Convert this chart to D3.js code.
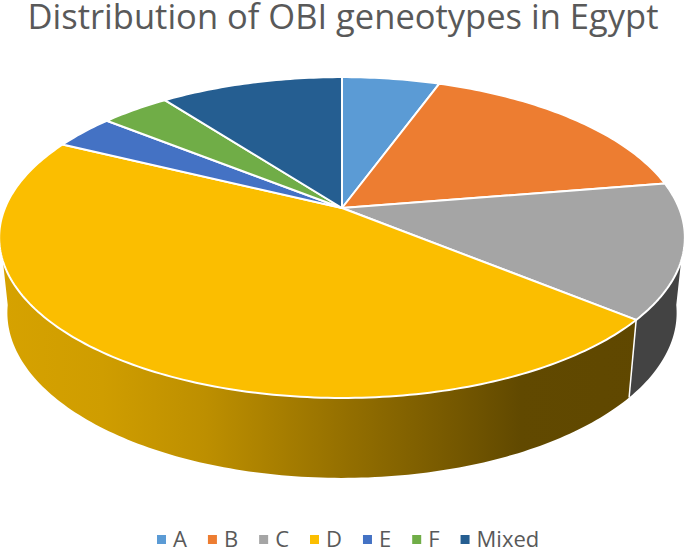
<!DOCTYPE html>
<html>
<head>
<meta charset="utf-8">
<script src="https://cdn.jsdelivr.net/npm/d3@7"></script>
<style>
  html, body { margin: 0; padding: 0; background: #fff; }
  text { font-family: "Open Sans", sans-serif; fill: #595959; }
</style>
</head>
<body>
<div id="chart"></div>
<script>
"use-strict";

const categories = ["A", "B", "C", "D", "E", "F", "Mixed"];
const shares = [5.5, 16.9, 13.6, 46.3, 3.5, 3.9, 10.3];
const colors = ["#5b9bd5", "#ed7d31", "#a5a5a5", "#fbbe00", "#4472c4", "#70ad47", "#255e91"];
const chartTitle = "Distribution of OBI geneotypes in Egypt";

const msm = {
    width: 685,
    height: 550,
    centerX: 342,
    centerY: 208,  // apex of the pie, it sits above the ellipse middle because of perspective
    scaleX: 337,
    scaleY: 155,
    tilt: 0.184
};

// where the side wall turns away from the viewer
const wallRight = 98 * Math.PI / 180;
const wallLeft = 262 * Math.PI / 180;

let svgContainer = d3.select("#chart")
    .append("svg")
    .attr("width", msm.width)
    .attr("height", msm.height)
    .style("display", "block");

// project an angle on the pie disc to the screen
function topPoint(angle, radius = 1) {
    let px = radius * Math.sin(angle);
    let py = -radius * Math.cos(angle);
    let w = 1 - msm.tilt * py;
    return [msm.centerX + msm.scaleX * px / w, msm.centerY + msm.scaleY * py / w];
}

// same point on the lower rim of the disc
function bottomPoint(angle) {
    let p = topPoint(angle);
    return [msm.centerX + 0.976 * (p[0] - msm.centerX), p[1] * 1.03 + 68];
}

let arcs = d3.pie().sort(null).value((d) => d)(shares);
let line = d3.line();

function sweep(start, end, fn) {
    let steps = Math.max(2, Math.ceil(Math.abs(end - start) * 60));
    return d3.range(steps + 1).map((i) => fn(start + (end - start) * i / steps));
}

// horizontal shading on the big wall
let defs = svgContainer.append("defs");
let wallGradient = defs.append("linearGradient")
    .attr("id", "wallD")
    .attr("gradientUnits", "userSpaceOnUse")
    .attr("x1", 0).attr("x2", msm.width)
    .attr("y1", 0).attr("y2", 0);
[[0, "#d6a200"], [0.15, "#cf9d00"], [0.3, "#bd8f00"], [0.5, "#957000"], [0.65, "#785a00"], [0.76, "#614900"], [1, "#5f4700"]]
    .forEach((s) => wallGradient.append("stop").attr("offset", s[0]).attr("stop-color", s[1]));

// walls first, the top faces cover whatever is behind
let arcC = arcs[2];
let arcD = arcs[3];

function wallPath(start, end) {
    return line(sweep(start, end, topPoint).concat(sweep(end, start, bottomPoint))) + "Z";
}

svgContainer.append("path")
    .attr("d", wallPath(Math.max(arcC.startAngle, wallRight), arcC.endAngle))
    .attr("fill", "#434343");

svgContainer.append("path")
    .attr("d", wallPath(arcD.startAngle, Math.min(arcD.endAngle, wallLeft)))
    .attr("fill", "url(#wallD)");

// white seam between the two walls
svgContainer.append("path")
    .attr("d", line([topPoint(arcD.startAngle), bottomPoint(arcD.startAngle)]))
    .attr("stroke", "#fff")
    .attr("stroke-width", 1.5)
    .attr("fill", "none");

// top faces
svgContainer.selectAll(".slice")
    .data(arcs)
    .enter()
    .append("path")
    .attr("class", "slice")
    .attr("d", (d) => line([[msm.centerX, msm.centerY]].concat(sweep(d.startAngle, d.endAngle, topPoint))) + "Z")
    .attr("fill", (d, i) => colors[i])
    .attr("stroke", "#fff")
    .attr("stroke-width", 2)
    .attr("stroke-linejoin", "round");

// title, stretched a touch to the width of the original
svgContainer.append("text")
    .attr("x", 343)
    .attr("y", 29)
    .attr("text-anchor", "middle")
    .attr("textLength", 631)
    .attr("lengthAdjust", "spacingAndGlyphs")
    .style("font-size", "34px")
    .text(chartTitle);

// legend, laid out left to right from the measured labels
let legendX = 157;
categories.forEach((name, i) => {
    svgContainer.append("rect")
        .attr("x", legendX)
        .attr("y", 535)
        .attr("width", 9)
        .attr("height", 9)
        .attr("fill", colors[i]);
    let label = svgContainer.append("text")
        .attr("x", legendX + 16)
        .attr("y", 547)
        .style("font-size", "22px")
        .text(name);
    legendX += 16 + label.node().getComputedTextLength() + 21;
});
</script>
</body>
</html>
